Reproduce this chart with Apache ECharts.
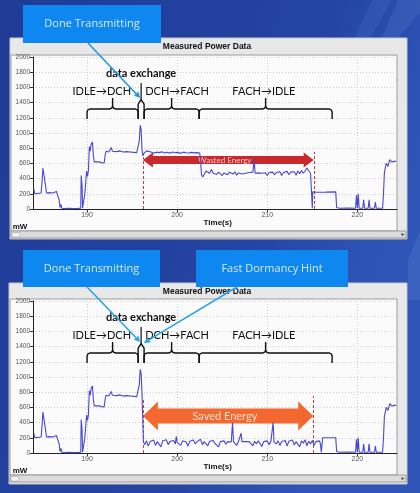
<!DOCTYPE html>
<html><head><meta charset="utf-8">
<script src="https://cdn.jsdelivr.net/npm/echarts@6/dist/echarts.min.js"></script>
<style>html,body{margin:0;padding:0;background:#213e9a}#c{width:420px;height:493px}</style>
</head><body><div id="c"></div>
<script>
// ---- data (time in s, power in mW) ----
const commonTrace = [[184.1,260],[184.2,200],[184.5,205],[184.9,210],[185.0,350],[185.1,540],[185.3,530],[185.4,300],[185.5,210],[185.8,215],[186.0,205],[186.2,210],[186.4,200],[186.6,230],[186.8,250],[186.9,120],[187.0,20],[187.1,60],[187.2,10],[187.5,5],[188.0,8],[188.5,5],[189.0,8],[189.3,10],[189.35,440],[189.45,300],[189.5,10],[189.6,5],[189.75,200],[189.85,350],[189.95,500],[190.05,430],[190.15,500],[190.25,820],[190.35,760],[190.45,850],[190.6,880],[190.7,700],[190.8,620],[191.0,610],[191.3,620],[191.6,610],[191.9,605],[192.0,700],[192.1,760],[192.4,750],[192.6,770],[192.7,810],[192.8,760],[193.0,760],[193.3,755],[193.6,765],[194.0,750],[194.4,755],[194.8,750],[195.2,745],[195.5,740],[195.7,760],[195.8,900],[195.9,1100],[196.0,1050],[196.1,780]];
const fachTrace = [[196.2,700],[196.3,730],[196.5,720],[196.6,765],[196.8,740],[197.1,750],[197.4,735],[197.7,748],[198.0,742],[198.3,752],[198.6,738],[198.9,746],[199.2,735],[199.5,750],[199.8,740],[200.1,745],[200.4,732],[200.7,748],[201.0,740],[201.3,736],[201.6,745],[201.9,738],[202.2,742],[202.5,735],[202.6,640],[202.7,450],[202.85,420],[203.0,430],[203.2,500],[203.4,520],[203.6,470],[203.8,520],[204.0,470],[204.2,480],[204.4,455],[204.6,485],[204.8,470],[205.0,440],[205.2,475],[205.4,480],[205.6,450],[205.8,485],[206.0,470],[206.2,460],[206.4,490],[206.6,445],[206.8,475],[207.0,480],[207.2,460],[207.4,485],[207.6,470],[207.8,450],[208.0,480],[208.2,470],[208.4,485],[208.5,470],[208.55,650],[208.6,655],[208.65,470],[208.8,480],[209.0,475],[209.2,480],[209.4,470],[209.6,482],[209.8,476],[210.0,440],[210.2,480],[210.4,470],[210.6,485],[210.8,450],[211.0,480],[211.2,465],[211.4,490],[211.6,440],[211.8,480],[212.0,470],[212.2,495],[212.4,450],[212.6,485],[212.8,460],[213.0,490],[213.2,445],[213.4,500],[213.6,465],[213.8,505],[214.0,470],[214.2,500],[214.4,540],[214.6,530],[214.8,470],[214.9,250],[215.0,10],[215.05,225],[215.5,220],[216.5,222],[217.6,225]];
const fastTrace = [[196.2,780],[196.25,150],[196.4,110],[196.6,160],[196.8,90],[197.0,150],[197.2,130],[197.4,170],[197.6,100],[197.8,150],[198.0,140],[198.2,80],[198.4,160],[198.6,140],[198.8,175],[199.0,110],[199.2,150],[199.4,130],[199.6,165],[199.8,120],[199.9,220],[200.0,140],[200.2,150],[200.4,100],[200.6,160],[200.8,135],[201.0,145],[201.2,90],[201.4,155],[201.6,140],[201.8,170],[202.0,120],[202.2,150],[202.4,135],[202.6,180],[202.8,110],[203.0,150],[203.2,140],[203.4,95],[203.6,155],[203.8,145],[204.0,165],[204.2,125],[204.4,150],[204.6,80],[204.8,150],[205.0,140],[205.2,160],[205.4,115],[205.6,150],[205.8,135],[206.0,145],[206.1,150],[206.15,400],[206.2,420],[206.25,150],[206.4,140],[206.6,100],[206.8,150],[207.0,145],[207.1,260],[207.2,150],[207.4,140],[207.6,150],[207.8,145],[208.0,150],[208.2,140],[208.4,95],[208.6,155],[208.8,120],[209.0,160],[209.2,140],[209.4,85],[209.6,150],[209.8,135],[210.0,160],[210.2,110],[210.4,150],[210.6,140],[210.65,400],[210.7,410],[210.75,140],[210.8,150],[211.0,120],[211.2,160],[211.4,100],[211.6,150],[211.8,145],[212.0,165],[212.2,90],[212.4,155],[212.6,130],[212.8,170],[213.0,105],[213.2,150],[213.4,140],[213.6,80],[213.8,160],[214.0,130],[214.2,175],[214.4,95],[214.6,155],[214.8,120],[215.0,165],[215.2,100],[215.4,150],[215.6,130],[215.8,160],[215.9,120],[216.0,10],[216.1,10],[216.15,200],[217.6,200]];
const tailTrace = [[217.7,20],[218.0,10],[219.0,12],[219.8,10],[219.9,180],[220.0,10],[220.1,200],[220.2,10],[220.6,10],[220.7,120],[220.8,10],[221.2,10],[221.3,120],[221.4,10],[221.9,10],[222.0,90],[222.1,10],[222.8,10],[222.9,200],[223.0,480],[223.2,600],[223.4,560],[223.6,650],[223.8,620],[224.0,640],[224.3,630]];
const xLabelValues = [190, 200, 210, 220];
const stateLabels = ['IDLE\u2192DCH', 'DCH\u2192FACH', 'FACH\u2192IDLE'];
const stateSpans = [[190.0, 195.67], [196.33, 202.44], [202.44, 217.2]];
const exchangeSpan = [195.67, 196.33];
const wasteSpan = [196.2, 215.15];
const savedSpan = [196.2, 215.1];
const dashTop = [[196.2, 684], [215.2, 750]];
const dashBottom = [[196.2, 700], [215.1, 750]];

const topData = commonTrace.concat(fachTrace, tailTrace);
const bottomData = commonTrace.concat(fastTrace, tailTrace);

const chart = echarts.init(document.getElementById('c'), null, {renderer: 'canvas', width: 420, height: 493});

function xAxisCfg(gi) {
  return {
    type: 'value', gridIndex: gi, min: 184, max: 224.4, interval: 2,
    axisLine: {show: true, onZero: false, lineStyle: {color: '#222', width: 1}},
    axisTick: {show: true, customValues: xLabelValues, length: 3, lineStyle: {color: '#333'}},
    axisLabel: {customValues: xLabelValues, fontSize: 7, color: '#555', margin: 3, fontFamily: 'Liberation Sans',
      formatter: v => (Math.abs(v % 10) < 1e-6 ? String(v) : '')},
    splitLine: {show: true, lineStyle: {color: '#cdcdcd', type: [1, 2], width: 1}}
  };
}
function yAxisCfg(gi) {
  return {
    type: 'value', gridIndex: gi, min: 0, max: 2000, interval: 200,
    axisLine: {show: true, lineStyle: {color: '#222', width: 1}},
    axisTick: {show: true, length: 3, lineStyle: {color: '#333'}},
    axisLabel: {fontSize: 6.5, color: '#555', margin: 3, fontFamily: 'Liberation Sans', formatter: v => String(v)},
    splitLine: {show: true, lineStyle: {color: '#cdcdcd', type: [1, 2], width: 1}}
  };
}
function dashMark(pairs) {
  return {
    silent: true, symbol: ['none', 'none'], label: {show: false},
    lineStyle: {color: '#d23a3a', type: [3, 2], width: 1},
    data: pairs.map(p => [{coord: [p[0], 0]}, {coord: [p[0], p[1]]}])
  };
}

const option = {
  animation: false,
  backgroundColor: {type: 'linear', x: 0, y: 0, x2: 1, y2: 0.3, colorStops: [
    {offset: 0, color: '#1f3b95'}, {offset: 0.7, color: '#2444a3'}, {offset: 1, color: '#2e55b6'}]},
  grid: [
    {left: 33, top: 57, width: 364, height: 152},
    {left: 33, top: 301, width: 364, height: 152}
  ],
  xAxis: [xAxisCfg(0), xAxisCfg(1)],
  yAxis: [yAxisCfg(0), yAxisCfg(1)],
  series: [
    {type: 'line', xAxisIndex: 0, yAxisIndex: 0, data: topData, showSymbol: false, z: 5,
      lineStyle: {color: '#4848d2', width: 1.1}, markLine: dashMark(dashTop)},
    {type: 'line', xAxisIndex: 1, yAxisIndex: 1, data: bottomData, showSymbol: false, z: 5,
      lineStyle: {color: '#4848d2', width: 1.1}, markLine: dashMark(dashBottom)}
  ]
};
chart.setOption(option);

function px(gi, t, v) { return chart.convertToPixel({gridIndex: gi}, [t, v]); }
function txt(x, y, text, font, fill, z) {
  return {type: 'text', z: z || 20, x: x, y: y, style: {text: text, font: font, fill: fill,
    align: 'center', verticalAlign: 'middle', textAlign: 'center', textVerticalAlign: 'middle'}};
}
const G = [];
// background streaks
G.push({type: 'polygon', z: -20, shape: {points: [[372, 0], [392, 0], [352, 70], [340, 70]]}, style: {fill: 'rgba(120,160,230,0.12)'}});
G.push({type: 'polygon', z: -20, shape: {points: [[398, 0], [420, 0], [420, 12], [380, 60], [372, 60]]}, style: {fill: 'rgba(120,160,230,0.15)'}});
G.push({type: 'polygon', z: -20, shape: {points: [[420, 230], [420, 300], [408, 300], [408, 260]]}, style: {fill: 'rgba(120,160,230,0.18)'}});

// panels
const panels = [
  {ox: 10, oy: 38, ow: 397, oh: 201, iy: 55, ih: 176},
  {ox: 9, oy: 283, ow: 398, oh: 201, iy: 299, ih: 176}
];
panels.forEach((p, gi) => {
  G.push({type: 'rect', z: -10, shape: {x: p.ox, y: p.oy, width: p.ow, height: p.oh}, style: {fill: '#e8e8e8', stroke: '#c8c8c8', lineWidth: 1}});
  G.push({type: 'rect', z: -9, shape: {x: p.ox + 1, y: p.iy, width: 397 - p.ox - 1, height: p.ih}, style: {fill: '#fbfbfb', stroke: '#9c9c9c', lineWidth: 1}});
  G.push({type: 'rect', z: -9, shape: {x: p.ox + 1, y: p.iy + p.ih, width: p.ow - 2, height: 7}, style: {fill: '#dcdcdc', stroke: '#8a8a8a', lineWidth: 0.8}});
  G.push({type: 'rect', z: -8, shape: {x: p.ox + 2, y: p.iy + p.ih + 1.5, width: 8, height: 4.5, r: 1}, style: {fill: '#f2f2f2', stroke: '#aaa', lineWidth: 0.6}});
  G.push(txt(p.ox + p.ow - 4, p.iy + p.ih + 3.6, '\u25B8', '6px DejaVu Sans', '#444', 5));
  const title = (p.oy + p.iy) / 2 + 0.5;
  G.push(txt(207, title, 'Measured Power Data', 'bold 8.5px "Liberation Sans"', '#111', 5));
  const g0 = px(gi, 184, 0);
  G.push(txt(20, g0[1] + 18, 'mW', 'bold 8px "Liberation Sans"', '#111', 5));
  G.push(txt(px(gi, 204.5, 0)[0], g0[1] + 14, 'Time(s)', 'bold 8px "Liberation Sans"', '#111', 5));
});

// annotation braces and labels
function bracePts(gi, t1, t2, tm, vTop, vTip, vEnd) {
  const x1 = px(gi, t1, vTop)[0], x2 = px(gi, t2, vTop)[0], xm = px(gi, tm, vTop)[0];
  const yT = px(gi, t1, vTop)[1], yTip = px(gi, tm, vTip)[1], yE = px(gi, t1, vEnd)[1];
  return [[x1, yE], [x1, yT + 3], [x1 + 0.8, yT + 1], [x1 + 3, yT], [xm - 3, yT], [xm - 1, yT - 0.8], [xm, yT - 3], [xm, yTip],
          [xm, yT - 3], [xm + 1, yT - 0.8], [xm + 3, yT], [x2 - 3, yT], [x2 - 0.8, yT + 1], [x2, yT + 3], [x2, yE]];
}
[0, 1].forEach(gi => {
  stateSpans.forEach((s, i) => {
    const tm = (s[0] + s[1]) / 2;
    G.push({type: 'polyline', z: 20, shape: {points: bracePts(gi, s[0], s[1], tm, 1316, 1460, 1184)}, style: {stroke: '#111', lineWidth: 1.4, fill: null}});
    const lp = px(gi, tm + (i === 0 ? -1.2 : (i === 1 ? 0.6 : -0.2)), 1553);
    G.push(txt(lp[0], lp[1], stateLabels[i], '11px Lato', '#111'));
  });
  // data exchange narrow brace
  const a = px(gi, exchangeSpan[0], 1184), b = px(gi, exchangeSpan[1], 1184);
  const m = px(gi, 196.0, 1440), tTop = px(gi, 196.0, 1658);
  const yT = px(gi, 196.0, 1380)[1];
  G.push({type: 'polyline', z: 20, shape: {points: [[a[0], a[1]], [a[0], yT], [m[0], m[1]], [b[0], yT], [b[0], b[1]]]}, style: {stroke: '#111', lineWidth: 1.4, fill: null}});
  G.push({type: 'line', z: 20, shape: {x1: m[0], y1: m[1], x2: tTop[0], y2: tTop[1]}, style: {stroke: '#111', lineWidth: 1.2}});
  const dp = px(gi, 196.0, 1777);
  G.push(txt(dp[0], dp[1], 'data exchange', 'bold 11px Lato', '#111'));
});

// energy arrows
function dblArrow(gi, span, v, headLen, headHalf, bodyHalf, color) {
  const p1 = px(gi, span[0], v), p2 = px(gi, span[1], v);
  const y = p1[1], x1 = p1[0], x2 = p2[0];
  return {type: 'polygon', z: 3, shape: {points: [[x1, y], [x1 + headLen, y - headHalf], [x1 + headLen, y - bodyHalf], [x2 - headLen, y - bodyHalf], [x2 - headLen, y - headHalf], [x2, y], [x2 - headLen, y + headHalf], [x2 - headLen, y + bodyHalf], [x1 + headLen, y + bodyHalf], [x1 + headLen, y + headHalf]]}, style: {fill: color}};
}
G.push(dblArrow(0, wasteSpan, 645, 10, 7.5, 4, '#c9282d'));
const wt = px(0, 205.3, 645);
G.push(txt(wt[0], wt[1], 'Wasted Energy', '8px Lato', '#f6c9c9', 4));
G.push(dblArrow(1, savedSpan, 487, 15, 14.5, 7.5, '#f4682f'));
const st = px(1, 205.3, 487);
G.push(txt(st[0], st[1], 'Saved Energy', '11px Lato', '#ffe2d4', 4));

// blue callout boxes
const boxes = [
  {x: 23, y: 5, w: 138, h: 38, text: 'Done Transmitting'},
  {x: 23, y: 250, w: 137, h: 37, text: 'Done Transmitting'},
  {x: 196, y: 250, w: 152, h: 37, text: 'Fast Dormancy Hint'}
];
function pointer(x1, y1, tip, color) {
  const x2 = tip[0], y2 = tip[1];
  const dx = x2 - x1, dy = y2 - y1, L = Math.sqrt(dx * dx + dy * dy);
  const ux = dx / L, uy = dy / L, hl = 6, hw = 3;
  const bx = x2 - ux * hl, by = y2 - uy * hl;
  G.push({type: 'line', z: 30, shape: {x1: x1, y1: y1, x2: bx, y2: by}, style: {stroke: color, lineWidth: 1.6}});
  G.push({type: 'polygon', z: 30, shape: {points: [[x2, y2], [bx - uy * hw, by + ux * hw], [bx + uy * hw, by - ux * hw]]}, style: {fill: color}});
}
boxes.forEach(b => {
  G.push({type: 'rect', z: 25, shape: {x: b.x, y: b.y, width: b.w, height: b.h}, style: {fill: '#0f87f0'}});
  G.push(txt(b.x + b.w / 2, b.y + b.h / 2, b.text, '11px "Open Sans"', '#d6eaff', 26));
});
pointer(88, 43, px(0, 195.9, 1460), '#2596e6');
pointer(87, 287, px(1, 195.9, 1460), '#2aa5e8');
pointer(237, 287, px(1, 196.3, 1447), '#2aa5e8');

chart.setOption({graphic: {elements: G}});
</script></body></html>
